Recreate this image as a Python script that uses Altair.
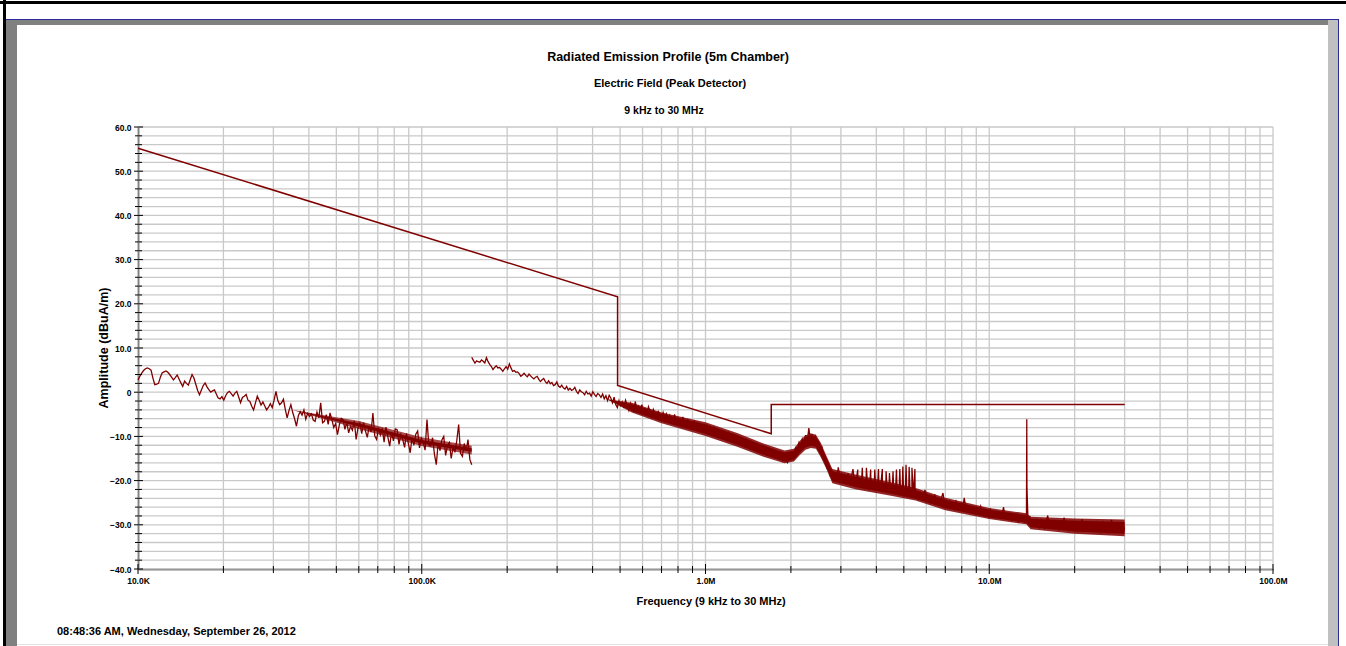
import altair as alt
import numpy as np
import pandas as pd

# ---------------- layout ----------------
W, H = 1135, 442          # plot area
OX, OY = 138, 127         # plot origin inside the 1346x646 page
MAROON = "#800000"
GRID = "#c9c9c9"
SANS = "Liberation Sans, Arial, sans-serif"

# ---------------- data ----------------
# limit line (frequency Hz, dBuA/m)
limit_f = [1.0e4, 4.9e5, 4.9e5, 1.705e6, 1.705e6, 3.0e7]
limit_v = [55.2, 21.6, 1.5, -9.4, -2.8, -2.8]

# sweep 1: 10 kHz .. 150 kHz
seg1_v = [
    2.8, 3.6, 4.3, 4.9, 5.3, 5.5, 5.3, 5.0, 3.2, 1.7,
    1.8, 2.0, 3.4, 4.4, 4.6, 4.8, 4.5, 4.0, 3.4, 2.8,
    3.3, 3.9, 3.0, 2.1, 1.3, 2.5, 2.0, 1.6, 2.8, 4.0,
    3.2, 1.8, 0.4, -0.6, 0.5, 1.5, 2.1, 1.2, 0.6, 0.0,
    0.3, 0.5, -0.4, -1.3, -1.5, -1.0, -1.8, -0.8, -0.1, 0.2,
    -0.3, -0.9, -0.2, 0.2, -1.1, -2.4, -1.2, -0.9, -0.5, -1.8,
    -2.1, -3.2, -4.0, -2.4, -0.9, -1.8, -2.9, -2.2, -3.1, -4.0,
    -3.4, -2.6, -3.5, -1.8, 0.2, -1.9, -2.8, -2.4, -1.6, -3.9,
    -5.8, -4.1, -2.8, -4.6, -6.0, -7.7, -5.3, -4.4, -5.2, -4.0,
    -6.1, -4.8, -5.5, -4.9, -6.3, -6.6, -4.5, -5.8, -2.4, -6.9,
    -6.6, -5.1, -7.3, -4.7, -6.2, -8.0, -7.1, -9.6, -7.4, -5.9,
    -6.2, -8.4, -6.8, -9.2, -7.7, -8.6, -6.5, -10.7, -8.1, -7.0,
    -9.4, -6.9, -8.8, -10.2, -7.6, -9.0, -4.7, -9.9, -10.7, -8.0,
    -9.7, -8.2, -11.3, -7.9, -10.1, -12.2, -9.0, -11.0, -8.3, -8.5,
    -11.8, -9.6, -10.7, -12.5, -9.3, -11.6, -13.7, -10.2, -12.0, -9.5,
    -8.8, -12.6, -10.4, -11.4, -13.1, -6.2, -11.9, -12.2, -10.3, -14.0,
    -16.4, -11.5, -13.2, -10.8, -10.0, -14.3, -12.1, -11.4, -15.0, -12.4,
    -13.6, -10.9, -7.3, -13.8, -14.5, -11.6, -13.3, -10.7, -15.2, -16.4,
]

# sweep 2: 150 kHz .. 30 MHz
seg2_v = [
    7.9, 7.2, 6.6, 7.1, 6.9, 6.8, 7.3, 7.0, 6.6, 7.8,
    6.9, 6.3, 5.8, 5.1, 5.6, 6.0, 5.5, 5.6, 5.2, 4.7,
    5.3, 5.8, 5.2, 6.4, 5.5, 4.7, 4.9, 4.5, 4.6, 4.2,
    3.6, 3.9, 4.3, 3.8, 3.5, 4.1, 3.7, 3.3, 3.0, 3.4,
    3.6, 2.9, 2.4, 2.8, 3.1, 2.4, 2.0, 2.6, 1.9, 2.2,
    1.5, 1.7, 2.3, 1.4, 1.1, 1.6, 1.0, 0.7, 1.3, 0.5,
    0.9, 0.4, 0.6, 1.1, 0.2, -0.3, 0.5, 0.1, -0.1, -0.6,
    0.2, -0.4, -0.2, -0.9, 0.1, -0.5, -1.0, -0.3, -0.6, -1.2,
    -0.4, -1.5, -0.8, -1.9, -0.7, -1.3, -2.4, -1.1, -2.8, -3.5,
    -1.9, -3.0, -2.2, -3.6, -1.8, -2.9, -4.1, -2.5, -3.4, -4.3,
    -2.1, -4.6, -3.2, -4.0, -2.8, -4.9, -3.6, -5.2, -3.3, -4.4,
    -5.6, -3.9, -4.8, -6.0, -4.2, -5.5, -6.3, -4.6, -5.8, -4.9,
    -6.5, -5.3, -6.9, -6.6, -5.0, -7.2, -5.9, -6.4, -7.5, -5.6,
    -6.8, -7.7, -6.1, -7.4, -8.3, -7.7, -6.4, -8.0, -7.0, -8.7,
    -7.3, -8.1, -9.0, -8.5, -7.6, -9.3, -8.2, -9.6, -8.0, -8.8,
    -10.0, -8.6, -9.4, -10.3, -8.9, -9.6, -10.7, -9.2, -10.1, -11.0,
    -9.7, -10.5, -11.4, -10.0, -11.8, -10.6, -11.5, -12.3, -10.9, -12.0,
    -12.6, -11.3, -12.2, -13.1, -11.8, -12.7, -13.0, -13.6, -12.3, -13.4,
    -14.0, -12.8, -13.7, -14.4, -13.2, -14.8, -14.5, -13.6, -15.1, -14.2,
    -15.5, -14.6, -15.2, -15.9, -14.4, -14.9, -13.8, -14.2, -12.6, -13.1,
    -11.4, -12.3, -10.6, -11.8, -9.7, -11.5, -8.1, -10.9, -9.6, -11.2,
    -10.1, -12.0, -11.3, -13.2, -12.5, -14.6, -15.9, -17.0, -16.2, -18.6,
    -17.6, -19.4, -18.1, -20.0, -17.0, -19.2, -18.5, -20.3, -18.8, -19.7,
    -18.4, -20.5, -19.1, -17.4, -20.6, -19.8, -21.0, -19.6, -21.5, -20.2,
    -21.8, -20.0, -21.3, -22.2, -20.7, -21.6, -20.4, -22.3, -21.1, -22.0,
    -20.8, -22.5, -21.4, -21.9, -22.8, -21.2, -22.6, -21.7, -23.1, -21.9,
    -22.4, -23.3, -21.8, -22.9, -23.5, -22.2, -23.0, -22.4, -23.7, -22.6,
    -23.2, -24.0, -22.4, -24.1, -23.0, -24.6, -23.3, -22.1, -24.3, -23.7,
    -25.0, -23.6, -24.5, -23.1, -25.3, -24.2, -25.6, -24.0, -22.8, -25.4,
    -24.6, -26.0, -24.8, -25.9, -25.1, -26.3, -24.7, -25.8, -26.5, -25.2,
    -26.1, -23.9, -26.4, -25.7, -26.9, -25.9, -27.1, -26.2, -27.4, -26.6,
    -27.0, -25.8, -27.5, -26.8, -27.8, -27.0, -28.1, -26.6, -27.6, -28.3,
    -27.2, -28.0, -27.4, -28.5, -27.7, -26.0, -28.4, -27.9, -28.7, -28.0,
    -29.0, -28.2, -28.8, -28.3, -29.3, -28.5, -29.1, -28.6, -29.4, -28.8,
    -29.5, -28.0, -30.1, -29.0, -30.4, -28.6, -29.8, -30.6, -28.9, -29.9,
    -30.8, -29.3, -27.9, -30.2, -29.5, -30.9, -29.1, -30.4, -29.7, -31.0,
    -29.6, -30.3, -28.4, -30.7, -29.8, -31.2, -30.0, -29.4, -30.9, -30.2,
    -31.3, -29.9, -30.6, -28.7, -31.0, -30.1, -31.5, -29.8, -30.7, -31.2,
    -30.0, -31.4, -29.2, -30.8, -31.6, -30.3, -29.5, -31.1, -30.4, -31.7,
    -30.2, -28.9, -31.3, -30.5, -31.8, -29.6, -31.0, -30.3, -31.9, -30.6,
]

# dense-noise core of sweep 1 (min / max)
band1_f = [3.5e4, 6.0e4, 1.0e5, 1.5e5]
band1_lo = [-4.0, -8.3, -12.2, -14.1]
band1_hi = [-4.0, -6.5, -10.2, -12.1]

# dense-noise envelope of sweep 2 (min / max)
band2_f = [4.5e5, 5.5e5, 7.0e5, 1.0e6, 1.3e6, 1.6e6, 1.9e6, 2.05e6, 2.15e6, 2.25e6,
           2.35e6, 2.45e6, 2.55e6, 2.65e6, 2.8e6, 3.4e6, 4.5e6, 5.5e6, 7.0e6, 1.0e7,
           1.35e7, 1.4e7, 2.0e7, 3.0e7]
band2_lo = [-1.6, -4.6, -7.0, -9.9, -12.4, -14.6, -16.1, -15.7, -14.2, -13.0,
            -12.6, -12.8, -14.8, -17.0, -20.6, -22.0, -23.4, -24.5, -26.7, -28.7,
            -29.9, -31.0, -32.0, -32.6]
band2_hi = [-1.6, -2.4, -4.6, -6.8, -9.3, -11.6, -13.2, -12.8, -11.0, -9.8,
            -9.3, -9.6, -11.5, -14.0, -17.4, -18.7, -20.4, -21.7, -23.9, -26.2,
            -27.4, -28.2, -28.6, -28.8]

# harmonic comb 3.4 - 5.5 MHz (peak values)
comb_f = [3.44e6, 3.57e6, 3.69e6, 3.82e6, 3.95e6, 4.07e6, 4.20e6, 4.33e6, 4.45e6,
          4.58e6, 4.71e6, 4.84e6, 4.96e6, 5.09e6, 5.22e6, 5.34e6, 5.47e6]
comb_v = [-17.5, -17.1, -17.1, -17.5, -17.5, -17.4, -17.4, -17.9, -18.3,
          -17.9, -17.5, -17.4, -16.8, -16.4, -16.9, -17.1, -17.4]

# 13.56 MHz ISM spike
spike_f = [13.56e6, 13.58e6]
spike_v = [-6.1, -21.5]

# axis / grid values
x_label_vals = [1e4, 1e5, 1e6, 1e7, 1e8]
x_grid_vals = [k * 10 ** d for d in range(4, 8) for k in range(1, 10)] + [1e8]
y_label_vals = list(range(-40, 61, 10))
y_grid_vals = list(range(-40, 61, 2))

# ---------------- frames ----------------
seg1_f = np.geomspace(1e4, 1.5e5, len(seg1_v))
seg2_f = np.geomspace(1.5e5, 3.0e7, len(seg2_v))

df_limit = pd.DataFrame({"f": limit_f, "v": limit_v, "o": range(len(limit_f))})
df_s1 = pd.DataFrame({"f": seg1_f, "v": seg1_v})
df_s2 = pd.concat([
    pd.DataFrame({"f": seg2_f, "v": seg2_v}),
    pd.DataFrame({"f": comb_f, "v": comb_v}),
    pd.DataFrame({"f": spike_f, "v": spike_v}),
]).sort_values("f").reset_index(drop=True)
df_s2["o"] = range(len(df_s2))
df_b1 = pd.DataFrame({"f": band1_f, "hi": band1_hi, "lo": band1_lo})
df_b2 = pd.DataFrame({"f": band2_f, "hi": band2_hi, "lo": band2_lo})

df_xg = pd.DataFrame({"f": x_grid_vals})
df_xg["major"] = df_xg["f"].isin(x_label_vals)
df_yg = pd.DataFrame({"v": y_grid_vals})
df_yg["major"] = df_yg["v"].isin(y_label_vals)

xscale = alt.Scale(type="log", domain=[1e4, 1e8])
yscale = alt.Scale(domain=[-40, 60], nice=False, zero=False)

xaxis = alt.Axis(
    values=x_label_vals,
    labelExpr="datum.value >= 1000000 ? format(datum.value / 1000000, '.1f') + 'M' : format(datum.value / 1000, '.1f') + 'K'",
    grid=False, ticks=False, tickSize=0, domain=True, domainColor="black", domainWidth=1.5,
    labelFont=SANS, labelFontSize=8.5, labelFontWeight="bold", labelColor="black",
    labelPadding=7, labelFlush=False, labelOverlap=False, title="",
)
yaxis = alt.Axis(
    values=y_label_vals,
    labelExpr="datum.value == 0 ? '0' : format(datum.value, '.1f')",
    grid=False, ticks=False, tickSize=0, domain=True, domainColor="black", domainWidth=1.5,
    labelFont=SANS, labelFontSize=8.5, labelFontWeight="bold", labelColor="black",
    labelPadding=7, labelFlush=False, labelOverlap=False, title="",
)

X = alt.X("f:Q", scale=xscale, axis=xaxis)
Y = alt.Y("v:Q", scale=yscale, axis=yaxis)

one = alt.Data(values=[{"k": 0}])


def rect(x1, x2, y1, y2, color):
    return alt.Chart(one).mark_rect(color=color).encode(
        x=alt.value(x1 - OX), x2=alt.value(x2 - OX),
        y=alt.value(y1 - OY), y2=alt.value(y2 - OY))


def label(text, px, py, size, align="center", angle=0):
    kw = dict(text=text, font=SANS, fontSize=size, fontWeight="bold",
              align=align, color="black", baseline="alphabetic")
    if angle:
        kw["angle"] = angle
        kw["baseline"] = "middle"
    return alt.Chart(one).mark_text(**kw).encode(
        x=alt.value(px - OX), y=alt.value(py - OY))


def band(df, outer_opacity, core_frac):
    # outer envelope plus a solid core in the middle of the band
    outer = alt.Chart(df).mark_area(color=MAROON, opacity=outer_opacity).encode(
        x=X, y=alt.Y("hi:Q", scale=yscale, axis=yaxis), y2="lo:Q")
    core = alt.Chart(df).transform_calculate(
        chi=f"datum.hi - {core_frac} * (datum.hi - datum.lo)",
        clo=f"datum.lo + {core_frac} * (datum.hi - datum.lo)",
    ).mark_area(color=MAROON, opacity=1).encode(
        x=X, y=alt.Y("chi:Q", scale=yscale, axis=yaxis), y2="clo:Q")
    return [outer, core]


grid_v = alt.Chart(df_xg).mark_rule(color=GRID, strokeWidth=1.3).encode(
    x=X, y=alt.value(0), y2=alt.value(H))
grid_h = alt.Chart(df_yg).mark_rule(color=GRID, strokeWidth=1.3).encode(
    y=Y, x=alt.value(0), x2=alt.value(W))

limit = alt.Chart(df_limit).mark_line(color=MAROON, strokeWidth=1.5).encode(
    x=X, y=Y, order="o:Q")
bands = band(df_b1, 0.7, 0.3) + band(df_b2, 0.85, 0.15)
trace1 = alt.Chart(df_s1).mark_line(color=MAROON, strokeWidth=1.3).encode(x=X, y=Y)
trace2 = alt.Chart(df_s2).mark_line(color=MAROON, strokeWidth=1.3).encode(
    x=X, y=Y, order="o:Q")

xt_min = alt.Chart(df_xg).transform_filter("!datum.major").mark_rule(color="black").encode(
    x=X, y=alt.value(H - 3), y2=alt.value(H + 4))
xt_maj = alt.Chart(df_xg).transform_filter("datum.major").mark_rule(color="black").encode(
    x=X, y=alt.value(H - 5), y2=alt.value(H + 5))
yt_min = alt.Chart(df_yg).transform_filter("!datum.major").mark_rule(color="black").encode(
    y=Y, x=alt.value(-3), x2=alt.value(4))
yt_maj = alt.Chart(df_yg).transform_filter("datum.major").mark_rule(color="black").encode(
    y=Y, x=alt.value(-4), x2=alt.value(5))

frame = [
    rect(0, 1346, 1, 4, "black"),
    rect(3, 6, 0, 646, "black"),
    rect(6, 1339, 19, 20, "#2a2a9a"),
    rect(6, 1328, 20, 25, "#808080"),
    rect(6, 17, 20, 646, "#808080"),
    rect(1328, 1338, 20, 646, "#c0c0c0"),
    rect(1338, 1339, 19, 646, "#2a2a9a"),
    rect(17, 1328, 644, 645, "#e2e2e2"),
]

texts = [
    label("Radiated Emission Profile (5m Chamber)", 668, 61, 12.5),
    label("Electric Field (Peak Detector)", 670, 86.5, 11),
    label("9 kHz to 30 MHz", 664, 114, 10.5),
    label("Frequency (9 kHz to 30 MHz)", 711, 605, 11),
    label("Amplitude (dBuA/m)", 104, 348, 12.5, angle=270),
    label("08:48:36 AM, Wednesday, September 26, 2012", 57, 635, 11, align="left"),
]

chart = alt.layer(
    *frame, grid_v, grid_h, limit, *bands, trace1, trace2,
    xt_min, xt_maj, yt_min, yt_maj, *texts,
).properties(
    width=W, height=H,
    padding={"left": OX, "top": OY, "right": 1346 - OX - W, "bottom": 646 - OY - H},
    autosize=alt.AutoSizeParams(type="none"),
    background="white",
).configure_view(stroke="transparent")

chart.save("out.html", embed_options={"renderer": "svg", "actions": False})
